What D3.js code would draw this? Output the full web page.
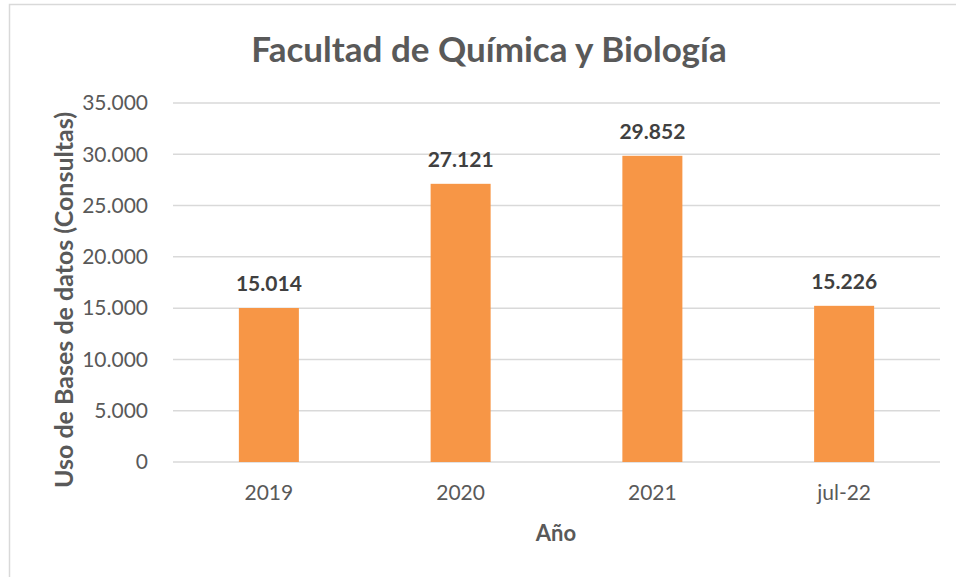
<!DOCTYPE html>
<html>
<head>
<meta charset="utf-8">
<script src="https://cdn.jsdelivr.net/npm/d3@7.9.0/dist/d3.min.js"></script>
<style>
  body { margin: 0; background: #fff; }
  svg { display: block; font-family: Lato, "Open Sans", sans-serif; }
</style>
</head>
<body>
<svg id="chart" width="956" height="577"></svg>
<script>
// data
const years = ['2019', '2020', '2021', 'jul-22'];
const consultas = [15014, 27121, 29852, 15226];
const yTicks = [0, 5000, 10000, 15000, 20000, 25000, 30000, 35000];

const width = 956, height = 577;
const margin = { top: 103, right: 16, bottom: 115, left: 173 };

const svg = d3.select('#chart');

// chart frame (runs off the right/bottom edge like the source)
svg.append('rect')
    .attr('x', 9.5).attr('y', 4.5)
    .attr('width', 980).attr('height', 600)
    .attr('fill', 'none')
    .attr('stroke', '#d9d9d9')
    .attr('stroke-width', 1.5);

const x = d3.scaleBand()
    .domain(years)
    .range([margin.left, width - margin.right])
    .padding(0);

const y = d3.scaleLinear()
    .domain([0, 35000])
    .range([height - margin.bottom, margin.top]);

const fmt = d => d3.format(',')(d).replace(/,/g, '.');

// gridlines
svg.append('g')
    .selectAll('line')
    .data(yTicks)
    .join('line')
    .attr('x1', margin.left)
    .attr('x2', width - margin.right)
    .attr('y1', d => y(d))
    .attr('y2', d => y(d))
    .attr('stroke', '#d9d9d9')
    .attr('stroke-width', 1.5);

// y tick labels
svg.append('g')
    .selectAll('text')
    .data(yTicks)
    .join('text')
    .attr('x', 148)
    .attr('y', d => y(d))
    .attr('dy', '0.35em')
    .attr('text-anchor', 'end')
    .attr('fill', '#595959')
    .attr('font-size', 21)
    .text(d => fmt(d));

// bars
const barW = x.bandwidth() * 0.313;
svg.append('g')
    .selectAll('rect')
    .data(consultas)
    .join('rect')
    .attr('x', (d, i) => x(years[i]) + x.bandwidth() / 2 - barW / 2)
    .attr('y', d => y(d))
    .attr('width', barW)
    .attr('height', d => y(0) - y(d))
    .attr('fill', '#f79646');

// value labels
svg.append('g')
    .selectAll('text')
    .data(consultas)
    .join('text')
    .attr('x', (d, i) => x(years[i]) + x.bandwidth() / 2)
    .attr('y', d => y(d) - 17)
    .attr('text-anchor', 'middle')
    .attr('fill', '#404040')
    .attr('font-size', 21)
    .attr('font-weight', 'bold')
    .text(d => fmt(d));

// x tick labels
svg.append('g')
    .selectAll('text')
    .data(years)
    .join('text')
    .attr('x', d => x(d) + x.bandwidth() / 2)
    .attr('y', 500)
    .attr('text-anchor', 'middle')
    .attr('fill', '#595959')
    .attr('font-size', 21)
    .text(d => d);

// title
svg.append('text')
    .attr('x', 489)
    .attr('y', 62)
    .attr('text-anchor', 'middle')
    .attr('fill', '#595959')
    .attr('font-size', 35)
    .attr('font-weight', 'bold')
    .text('Facultad de Química y Biología');

// axis titles
svg.append('text')
    .attr('x', 556)
    .attr('y', 541)
    .attr('text-anchor', 'middle')
    .attr('fill', '#595959')
    .attr('font-size', 22)
    .attr('font-weight', 'bold')
    .text('Año');

svg.append('text')
    .attr('transform', 'translate(73,300) rotate(-90)')
    .attr('text-anchor', 'middle')
    .attr('fill', '#595959')
    .attr('font-size', 25)
    .attr('font-weight', 'bold')
    .text('Uso de Bases de datos (Consultas)');
</script>
</body>
</html>
